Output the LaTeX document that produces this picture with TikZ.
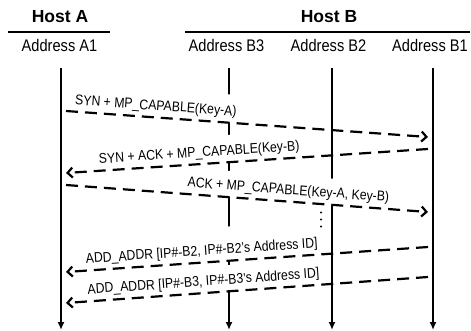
\documentclass[tikz,border=0pt]{standalone}
\usepackage{fontspec}
\setmainfont{Liberation Sans}
\newfontfamily\narrowsans[FakeStretch=0.87]{Liberation Sans}
\usetikzlibrary{arrows.meta}
\begin{document}
\begin{tikzpicture}[x=1pt,y=-1pt,
  hosttitle/.style={font=\fontsize{17.5}{20}\selectfont\bfseries, anchor=base, inner sep=0pt},
  addrlabel/.style={font=\narrowsans\fontsize{16.8}{19}\selectfont, anchor=base, inner sep=0pt},
  rulebar/.style={line width=2pt},
  lifeline/.style={line width=2.5pt, -{Latex[length=8pt,width=7pt]}},
  msg/.style={line width=2.2pt, dash pattern=on 12pt off 7pt, -{Straight Barb[length=5pt,width=10pt]}},
  msglabel/.style={font=\narrowsans\fontsize{14.1}{16}\selectfont, sloped, anchor=south, fill=white, inner xsep=2pt, inner ysep=0pt, text depth=7pt}
]
\useasboundingbox (0,0) rectangle (471,331);

% headers
\node[hosttitle] (hostA) at (60,23) {Host A};
\node[hosttitle] (hostB) at (329,23) {Host B};
\coordinate (ruleAl) at (8,32);
\coordinate (ruleAr) at (110,32);
\coordinate (ruleBl) at (185,32);
\coordinate (ruleBr) at (470,32);
\draw[rulebar] (ruleAl) -- (ruleAr);
\draw[rulebar] (ruleBl) -- (ruleBr);
\node[addrlabel] (addrA1) at (59.5,52) {Address A1};
\node[addrlabel] (addrB3) at (226.5,52) {Address B3};
\node[addrlabel] (addrB2) at (328.5,52) {Address B2};
\node[addrlabel] (addrB1) at (430,52) {Address B1};

% lifelines
\coordinate (A1top) at (61,68);   \coordinate (A1bot) at (61,330);
\coordinate (B3top) at (229,68);  \coordinate (B3bot) at (229,330);
\coordinate (B2top) at (332,68);  \coordinate (B2bot) at (332,330);
\coordinate (B1top) at (433,68);  \coordinate (B1bot) at (433,330);
\draw[lifeline] (A1top) -- (A1bot);
\draw[lifeline] (B3top) -- (B3bot);
\draw[lifeline] (B2top) -- (B2bot);
\draw[lifeline] (B1top) -- (B1bot);

% message end points
\coordinate (m1a) at (66,111);  \coordinate (m1b) at (428,137);
\coordinate (m2a) at (66,173);  \coordinate (m2b) at (428,149);
\coordinate (m3a) at (66,185);  \coordinate (m3b) at (428,212);
\coordinate (m4a) at (66,272);  \coordinate (m4b) at (428,247);
\coordinate (m5a) at (66,303);  \coordinate (m5b) at (428,277);

% labels (white boxes drawn below the dashed lines)
\path (m1a) -- (m1b) node[msglabel, pos=0.246, text height=21pt] (l1) {SYN + MP\_CAPABLE(Key-A)};
\path (m2a) -- (m2b) node[msglabel, pos=0.37, text height=20pt] (l2) {SYN + ACK + MP\_CAPABLE(Key-B)};
\path (m3a) -- (m3b) node[msglabel, pos=0.612, text height=19pt] (l3) {ACK + MP\_CAPABLE(Key-A, Key-B)};
\path (m4a) -- (m4b) node[msglabel, pos=0.377, text height=27pt] (l4) {ADD\_ADDR [IP\#-B2, IP\#-B2’s Address ID]};
\path (m5a) -- (m5b) node[msglabel, pos=0.382, text height=19pt] (l5) {ADD\_ADDR [IP\#-B3, IP\#-B3’s Address ID]};

% messages
\draw[msg] (m1a) -- (m1b);
\draw[msg] (m2b) -- (m2a);
\draw[msg] (m3a) -- (m3b);
\draw[msg] (m4b) -- (m4a);
\draw[msg] (m5b) -- (m5a);

% dots
\foreach \yy/\nm in {212.5/d1,219.5/d2,226.5/d3}
  \fill (321,\yy) circle[radius=1.2pt];
\end{tikzpicture}
\end{document}
